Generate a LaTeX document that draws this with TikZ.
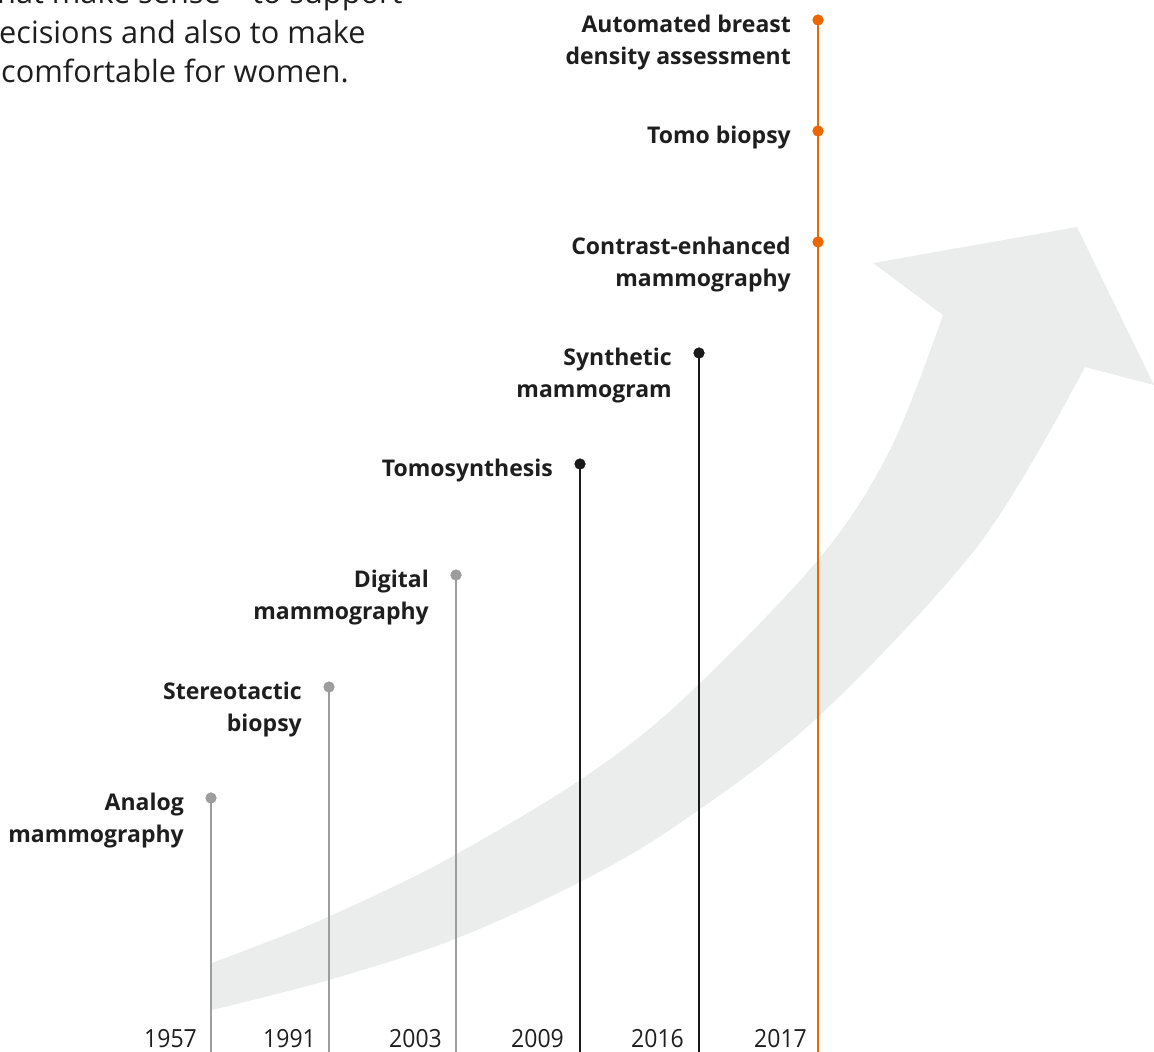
\documentclass[tikz,border=0pt]{standalone}
\usepackage{fontspec}
\setmainfont{Open Sans}
\newfontfamily\yrfont[FakeStretch=0.92]{Open Sans}
\definecolor{arrowgray}{HTML}{EBECEC}
\definecolor{linegray}{HTML}{9D9D9D}
\definecolor{lineblack}{HTML}{1A1A1A}
\definecolor{lineorange}{HTML}{EC6602}
\definecolor{txt}{HTML}{1E1E1E}
\tikzset{
  stem/.style={line width=2.8pt},
  dotbase/.style={circle, inner sep=0pt, minimum size=11pt},
  gdot/.style={dotbase, fill=linegray},
  kdot/.style={dotbase, fill=lineblack},
  odot/.style={dotbase, fill=lineorange},
  lbl/.style={text=txt, inner sep=0pt, align=right, anchor=base east,
    font=\fontsize{23}{32}\selectfont\bfseries},
  yr/.style={text=txt, inner sep=0pt, anchor=base east,
    font=\yrfont\fontsize{25}{30}\selectfont},
  para/.style={text=txt, inner sep=0pt, anchor=base west,
    font=\fontsize{30.7}{39}\selectfont}
}
\begin{document}
\begin{tikzpicture}[x=1pt,y=-1pt]
\useasboundingbox (0,0) rectangle (1154,1052);
\clip (0,0) rectangle (1154,1052);

% big arrow
\fill[arrowgray] plot[smooth, tension=0.55] coordinates {(212,963) (300,929) (380,893) (455,855) (580,780) (680,702) (818,560) (890,450) (943,315)}
  -- (873,263) -- (1077,227) -- (1154,385) -- (1085,367)
  -- plot[smooth, tension=0.55] coordinates {(1085,367) (980,543) (818,717) (680,823) (580,882) (455,939) (329,980) (212,1010)}
  -- cycle;

% paragraph text
\node[para] (p1) at (-3,4) {hat make sense – to support};
\node[para] (p2) at (-1,43) {ecisions and also to make};
\node[para] (p3) at (1,82) {comfortable for women.};

% bottom coordinates
\coordinate (b1957) at (211,1052);
\coordinate (b1991) at (329,1052);
\coordinate (b2003) at (456,1052);
\coordinate (b2009) at (580,1052);
\coordinate (b2016) at (699,1052);
\coordinate (b2017) at (818,1052);

% dots
\node[gdot] (d1957) at (211,798) {};
\node[gdot] (d1991) at (329,687) {};
\node[gdot] (d2003) at (456,575) {};
\node[kdot] (d2009) at (580,464) {};
\node[kdot] (d2016) at (699,353) {};
\node[odot] (dcem) at (818,242) {};
\node[odot] (dtomo) at (818,131) {};
\node[odot] (dauto) at (818,20) {};

% stems
\draw[stem, linegray] (d1957.center) -- (b1957);
\draw[stem, linegray] (d1991.center) -- (b1991);
\draw[stem, linegray] (d2003.center) -- (b2003);
\draw[stem, lineblack] (d2009.center) -- (b2009);
\draw[stem, lineblack] (d2016.center) -- (b2016);
\draw[stem, lineorange] (dauto.center) -- (b2017);

% redraw dots on top
\node[gdot] at (d1957) {};
\node[gdot] at (d1991) {};
\node[gdot] at (d2003) {};
\node[kdot] at (d2009) {};
\node[kdot] at (d2016) {};
\node[odot] at (dcem) {};
\node[odot] at (dtomo) {};
\node[odot] at (dauto) {};

% labels (base = baseline of last line)
\node[lbl] (l1957) at (184,842) {Analog\\mammography};
\node[lbl] (l1991) at (302,731) {Stereotactic\\biopsy};
\node[lbl] (l2003) at (429,619) {Digital\\mammography};
\node[lbl] (l2009) at (553,476) {Tomosynthesis};
\node[lbl] (l2016) at (672,397) {Synthetic\\mammogram};
\node[lbl] (lcem) at (791,286) {Contrast-enhanced\\mammography};
\node[lbl] (ltomo) at (791,143) {Tomo biopsy};
\node[lbl] (lauto) at (791,64) {Automated breast\\density assessment};

% years
\node[yr] (y1957) at (197,1047) {1957};
\node[yr] (y1991) at (316,1047) {1991};
\node[yr] (y2003) at (442,1047) {2003};
\node[yr] (y2009) at (564,1047) {2009};
\node[yr] (y2016) at (684,1047) {2016};
\node[yr] (y2017) at (807,1047) {2017};
\end{tikzpicture}
\end{document}
